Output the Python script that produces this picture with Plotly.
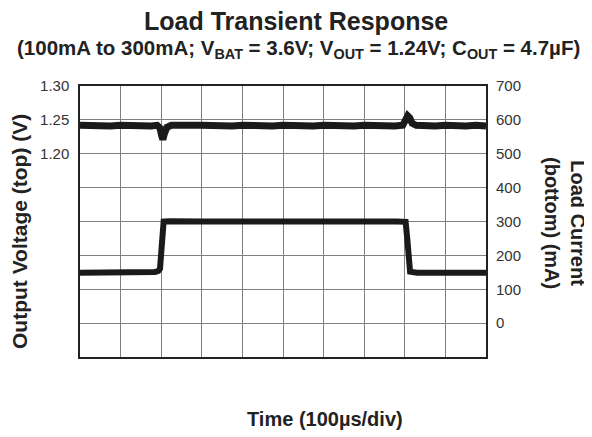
import plotly.graph_objects as go

# Output voltage trace (top), time in µs
time_v = [0, 25, 50, 75, 100, 125, 150, 175, 190, 197, 201, 204, 208, 214, 225, 250, 275,
          300, 325, 350, 375, 400, 425, 450, 475, 500, 525, 550, 575, 600, 625, 650, 675,
          700, 725, 750, 775, 795, 801, 807, 812, 818, 828, 850, 875, 900, 925, 950, 975, 1000]
v_out = [1.242, 1.241, 1.242, 1.241, 1.242, 1.241, 1.242, 1.241, 1.242, 1.238, 1.227, 1.221, 1.230, 1.239, 1.242, 1.241, 1.242,
         1.242, 1.241, 1.242, 1.241, 1.242, 1.241, 1.242, 1.241, 1.242, 1.241, 1.242, 1.241, 1.242, 1.241, 1.242, 1.241,
         1.242, 1.241, 1.242, 1.241, 1.242, 1.248, 1.256, 1.253, 1.245, 1.242, 1.241, 1.241, 1.242, 1.241, 1.241, 1.242, 1.241]

# Load current trace (bottom), mA
time_i = [0, 50, 100, 150, 185, 193, 197, 206, 220, 300, 400, 500, 600, 700, 780, 802, 806, 813, 830, 900, 1000]
i_load = [149, 149, 150, 149, 151, 154, 160, 300, 301, 300, 301, 300, 300, 300, 300, 299, 250, 152, 149, 149, 149]

left_ticks = [1.20, 1.25, 1.30]
right_ticks = [0, 100, 200, 300, 400, 500, 600, 700]

font = "Liberation Sans, Arial, sans-serif"
grid = "#7f7f7f"
ink = "#222222"

# page body has an 8px margin: the figure sits at (8, 8) in the window
W, H = 584, 429
L, R, T, B = 72, 106, 78, 80

fig = go.Figure()
fig.add_trace(go.Scatter(x=time_v, y=v_out, mode="lines",
                         line=dict(color="#1a1a1a", width=7), yaxis="y"))
fig.add_trace(go.Scatter(x=time_i, y=i_load, mode="lines",
                         line=dict(color="#1a1a1a", width=6), yaxis="y2"))

fig.update_layout(
    width=W, height=H,
    margin=dict(l=L, r=R, t=T, b=B, autoexpand=False),
    paper_bgcolor="white", plot_bgcolor="white",
    showlegend=False,
    font=dict(family=font, color=ink, size=15),
    xaxis=dict(range=[0, 1000], dtick=100, showticklabels=False, ticks="",
               showgrid=True, gridcolor=grid, gridwidth=1, zeroline=False,
               showline=True, linecolor=ink, linewidth=1.5, mirror=True),
    yaxis=dict(range=[0.90, 1.30], tickvals=left_ticks,
               ticktext=[f"{t:.2f}" for t in left_ticks],
               ticks="outside", ticklen=6, tickcolor="rgba(0,0,0,0)",
               tickfont=dict(size=15, color="#333"),
               showgrid=False, zeroline=False,
               showline=True, linecolor=ink, linewidth=1.5, mirror=True),
    yaxis2=dict(range=[-100, 700], tickvals=right_ticks, overlaying="y", side="right",
                ticks="outside", ticklen=6, tickcolor="rgba(0,0,0,0)",
                tickfont=dict(size=15, color="#333"),
                showgrid=True, gridcolor=grid, gridwidth=1, zeroline=False,
                showline=False),
)


def px(xw):
    return (xw - 80) / 406.0


def py(yw):
    return (357 - yw) / 271.0


def note(text, x, y, size, angle=0):
    fig.add_annotation(text=text, xref="paper", yref="paper", x=px(x), y=py(y),
                       showarrow=False, xanchor="center", yanchor="middle",
                       textangle=angle, font=dict(size=size, color=ink, family=font))


note("<b>Load Transient Response</b>", 296, 21, 25)
note("<b>(100mA to 300mA; V<sub>BAT</sub> = 3.6V; V<sub>OUT</sub> = 1.24V; "
     "C<sub>OUT</sub> = 4.7µF)</b>", 298, 49, 20.5)
note("<b>Time (100µs/div)</b>", 325, 419, 20)
note("<b>Output Voltage (top) (V)</b>", 19, 232, 21, -90)
note("<b>Load Current<br>(bottom) (mA)</b>", 565, 223, 20, 90)

fig.write_html("out.html")
